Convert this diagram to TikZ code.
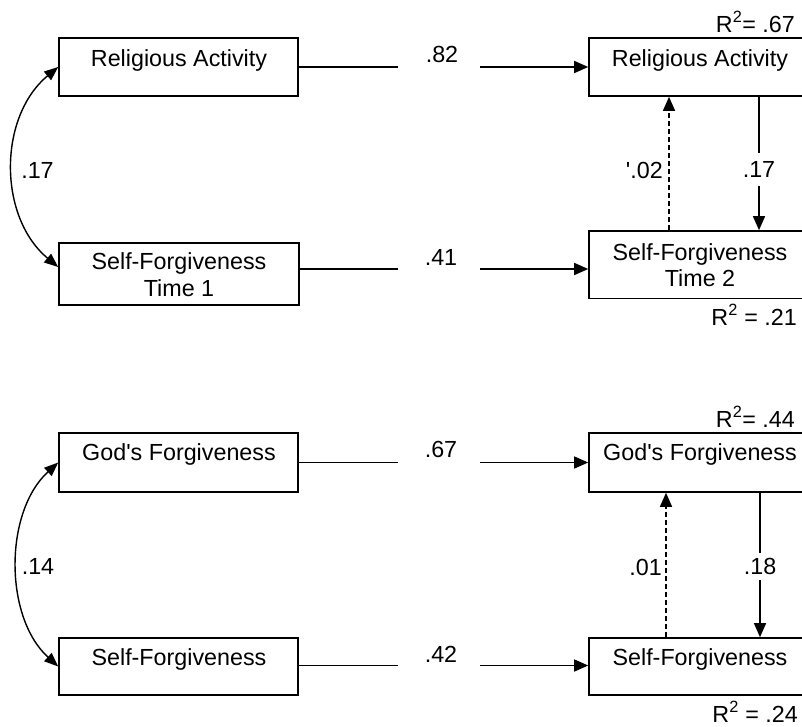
\documentclass[tikz,border=0pt]{standalone}
\usepackage{fontspec}
\setmainfont{Liberation Sans}
\usetikzlibrary{arrows.meta}
\begin{document}
\begin{tikzpicture}[x=1pt,y=-1pt,
  every node/.style={font=\fontsize{23.3}{27}\selectfont, inner sep=0pt},
  box/.style={draw, line width=1.6pt, minimum width=#1},
  conn/.style={line width=1.4pt},
  arr/.style={line width=1.4pt, -{Triangle[length=14pt,width=12pt]}},
  darr/.style={line width=1.4pt, dash pattern=on 5pt off 3pt, -{Triangle[length=14pt,width=12pt]}},
  biarr/.style={line width=1.4pt, {Triangle[length=14pt,width=11pt]}-{Triangle[length=14pt,width=11pt]}},
  gap/.style={fill=white, inner xsep=2pt},
  txt/.style={anchor=base, align=center}]
\useasboundingbox (0,0) rectangle (802,726);
\clip (0,0) rectangle (802,726);
\fill[white] (0,0) rectangle (802,726);

% boxes (upper model)
\node[box=239pt, minimum height=58pt] (L1) at (178.5,67) {};
\node[box=240pt, minimum height=62pt] (L2) at (179,274) {};
\node[box=222pt, minimum height=58pt] (R1) at (700,67) {};
\node[box=222pt, minimum height=67.5pt] (R2) at (700,264.75) {};
% boxes (lower model)
\node[box=239pt, minimum height=59pt] (L3) at (178.5,462.5) {};
\node[box=239pt, minimum height=57pt] (L4) at (178.5,666.5) {};
\node[box=222pt, minimum height=59pt] (R3) at (700,462.5) {};
\node[box=222pt, minimum height=57pt] (R4) at (700,666.5) {};

% box texts
\node[txt] (tL1) at (179,66) {Religious Activity};
\node[txt] (tL2) at (179,269) {Self-Forgiveness};
\node[txt] (tL2b) at (179,296) {Time 1};
\node[txt] (tR1) at (700,66) {Religious Activity};
\node[txt] (tR2) at (700,260) {Self-Forgiveness};
\node[txt] (tR2b) at (700,286) {Time 2};
\node[txt] (tL3) at (179,460) {God\textquotesingle s Forgiveness};
\node[txt] (tL4) at (179,665) {Self-Forgiveness};
\node[txt] (tR3) at (700,460) {God\textquotesingle s Forgiveness};
\node[txt] (tR4) at (700,665) {Self-Forgiveness};

% R squared
\node[anchor=base east] (r1) at (795,32) {R\textsuperscript{2}= .67};
\node[anchor=base east] (r2) at (797,325) {R\textsuperscript{2} = .21};
\node[anchor=base east] (r3) at (795,427) {R\textsuperscript{2}= .44};
\node[anchor=base east] (r4) at (798,722) {R\textsuperscript{2} = .24};

% horizontal paths
\coordinate (a1) at (398,67);  \coordinate (b1) at (480,67);
\coordinate (a2) at (398,269); \coordinate (b2) at (480,269);
\coordinate (a3) at (398,462.5); \coordinate (b3) at (480,462.5);
\coordinate (a4) at (398,665.5); \coordinate (b4) at (480,665.5);
\draw[conn] (L1.east |- a1) -- (a1);
\draw[arr] (b1) -- (R1.west |- b1);
\draw[conn] (L2.east |- a2) -- (a2);
\draw[arr] (b2) -- (R2.west |- b2);
\draw[conn] (L3.east |- a3) -- (a3);
\draw[arr] (b3) -- (R3.west |- b3);
\draw[conn] (L4.east |- a4) -- (a4);
\draw[arr] (b4) -- (R4.west |- b4);
\node[txt] (p1) at (442,62) {.82};
\node[txt] (p2) at (441,265) {.41};
\node[txt] (p3) at (441,457) {.67};
\node[txt] (p4) at (441,662) {.42};

% vertical paths (upper)
\coordinate (d1) at (669,160);
\coordinate (s1) at (759,160);
\draw[darr] (R2.north -| d1) -- (R1.south -| d1);
\node[anchor=base east] (q1) at (663,178) {\textquotesingle.02};
\draw[arr] (R1.south -| s1) -- node[gap, pos=0.545, inner ysep=8.5pt] (q2) {.17} (R2.north -| s1);

% vertical paths (lower)
\coordinate (d2) at (666,560);
\coordinate (s2) at (760,560);
\draw[darr] (R4.north -| d2) -- (R3.south -| d2);
\node[anchor=base east] (q3) at (662,575) {.01};
\draw[arr] (R3.south -| s2) -- node[gap, pos=0.51, inner ysep=5.6pt] (q4) {.18} (R4.north -| s2);

% correlations
\draw[biarr] (L1.west) .. controls (-2,117) and (-2,217) .. ([yshift=7pt]L2.west);
\node[txt] (c1) at (37.5,178) {.17};
\draw[biarr] (L3.west) .. controls (4,512) and (4,617) .. (L4.west);
\node[txt] (c2) at (38,574) {.14};
\end{tikzpicture}
\end{document}
